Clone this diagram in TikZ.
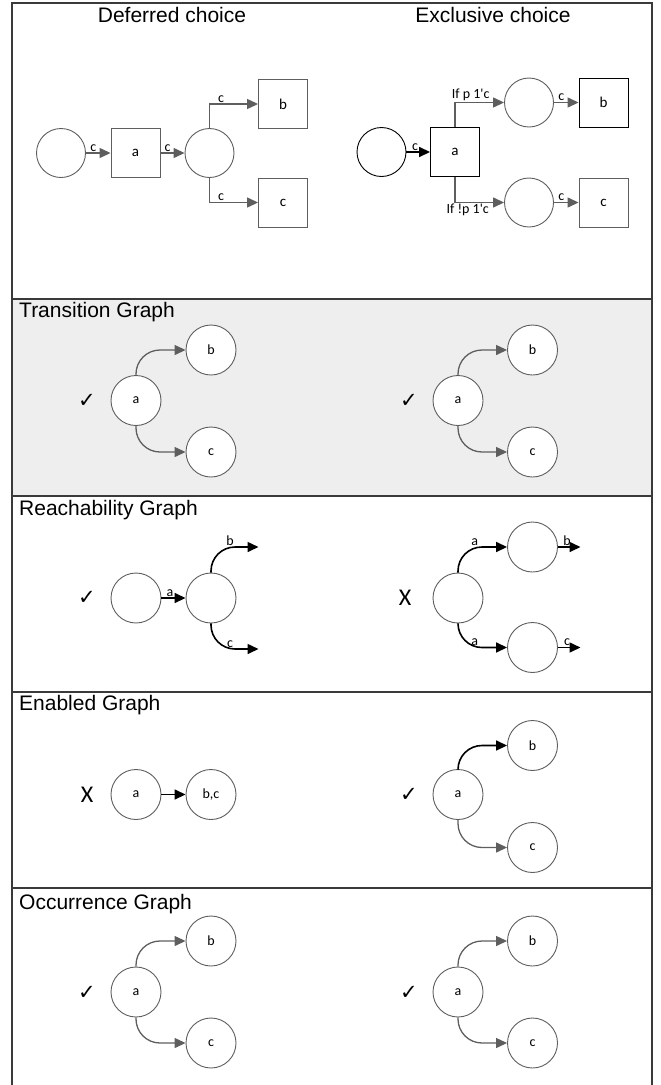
\documentclass[tikz,border=0pt]{standalone}
\usepackage{fontspec}
\setmainfont{Liberation Sans}
\newfontfamily\lblfont{Carlito}
\newfontfamily\symfont{DejaVu Sans}
\usetikzlibrary{arrows.meta}

\definecolor{linegray}{HTML}{5E5E5E}
\definecolor{framegray}{HTML}{3A3A3A}
\definecolor{bandgray}{HTML}{EEEEEE}

\begin{document}
\begin{tikzpicture}[x=1pt, y=-1pt,
  place/.style={circle, draw=linegray, line width=0.9pt, minimum size=49pt, inner sep=0pt},
  trans/.style={draw=linegray, line width=0.9pt, minimum size=49pt, inner sep=0pt, font=\lblfont\fontsize{15}{17}\selectfont},
  gnode/.style={circle, draw=linegray, fill=white, line width=0.9pt, minimum size=50pt, inner sep=0pt, font=\lblfont\fontsize{14}{16}\selectfont},
  flow/.style={draw=linegray, line width=1.3pt, -{Triangle[length=11pt,width=10pt]}},
  darkflow/.style={flow, draw=black, line width=1.6pt},
  roundturn/.style={rounded corners=24pt},
  lbl/.style={font=\lblfont\fontsize{14}{16}\selectfont, inner sep=1pt},
  headtext/.style={font=\fontsize{21}{25}\selectfont, inner sep=0pt},
  sectext/.style={anchor=west, inner sep=0pt, font=\fontsize{21}{25}\selectfont},
  okmark/.style={font=\symfont\fontsize{21}{24}\selectfont},
  nomark/.style={font=\lblfont\fontsize{24}{26}\selectfont},
  framestyle/.style={draw=framegray, line width=1.3pt}
]
\useasboundingbox (0,0) rectangle (661,1085);

% shaded band and frame
\fill[bandgray] (12,299) rectangle (652,496);
\draw[framestyle] (12,1085) -- (12,3) -- (652,3) -- (652,1085);
\draw[framestyle] (12,299) -- (652,299);
\draw[framestyle] (12,496) -- (652,496);
\draw[framestyle] (12,692) -- (652,692);
\draw[framestyle] (12,888) -- (652,888);

% column titles
\node[headtext] (tdef) at (172,15) {Deferred choice};
\node[headtext] (texc) at (493,15) {Exclusive choice};

% deferred choice net
\node[place] (dp1) at (61,153) {};
\node[trans] (da) at (135.5,153) {a};
\node[place] (dp2) at (209.5,153) {};
\node[trans] (db) at (283,104) {b};
\node[trans] (dc) at (283,202.5) {c};
\draw[flow] (dp1) -- node[lbl, above, pos=0.3] {c} (da);
\draw[flow] (da) -- node[lbl, above, pos=0.3] {c} (dp2);
\draw[flow] (dp2.north) |- node[lbl, above, pos=0.62] {c} (db);
\draw[flow] (dp2.south) |- node[lbl, above, pos=0.62] {c} (dc);

% exclusive choice net
\node[place, draw=black] (ep1) at (381.5,152) {};
\node[trans, draw=black] (ea) at (455,152) {a};
\node[place] (ep2) at (529,102.5) {};
\node[place] (ep3) at (529,202.5) {};
\node[trans, draw=black] (eb) at (603.5,102.5) {b};
\node[trans] (ec) at (603.5,202.5) {c};
\draw[darkflow] (ep1) -- node[lbl, above, pos=0.37] {c} (ea);
\draw[flow] (ea.north) |- node[lbl, above, pos=0.66] {If p 1'c} (ep2);
\draw[flow] (ea.south) |- node[lbl, below, pos=0.63] {If !p 1'c} (ep3);
\draw[flow] (ep2) -- node[lbl, above, pos=0.3] {c} (eb);
\draw[flow] (ep3) -- node[lbl, above, pos=0.3] {c} (ec);

% transition graph
\node[sectext] (ttg) at (19,312) {Transition Graph};
\node[okmark] (tok1) at (87,401) {✓};
\node[gnode] (ta1) at (136,400.5) {a};
\node[gnode] (tb1) at (211,350) {b};
\node[gnode] (tc1) at (211,452) {c};
\draw[flow, roundturn] (ta1.north) |- (tb1);
\draw[flow, roundturn] (ta1.south) |- (tc1);
\node[okmark] (tok2) at (409,401) {✓};
\node[gnode] (ta2) at (458,400.5) {a};
\node[gnode] (tb2) at (532.5,350) {b};
\node[gnode] (tc2) at (532.5,452) {c};
\draw[flow, roundturn] (ta2.north) |- (tb2);
\draw[flow, roundturn] (ta2.south) |- (tc2);

% reachability graph
\node[sectext] (trg) at (19,510.5) {Reachability Graph};
\node[okmark] (rok) at (87,598) {✓};
\node[gnode] (rp1) at (136,598) {};
\node[gnode] (rp2) at (211,598) {};
\coordinate (rbout) at (258.5,547);
\coordinate (rcout) at (258.5,649);
\draw[darkflow] (rp1) -- node[lbl, above, pos=0.35] {a} (rp2);
\draw[darkflow, roundturn] (rp2.north) |- node[lbl, above, pos=0.7] {b} (rbout);
\draw[darkflow, roundturn] (rp2.south) |- node[lbl, above, pos=0.7] {c} (rcout);
\node[nomark] (rno) at (405,598) {X};
\node[gnode] (rq1) at (458,598) {};
\node[gnode] (rq2) at (532.5,547) {};
\node[gnode] (rq3) at (532.5,647.5) {};
\coordinate (rqbout) at (580.5,547);
\coordinate (rqcout) at (580.5,647.5);
\draw[darkflow, roundturn] (rq1.north) |- node[lbl, above, pos=0.67] {a} (rq2);
\draw[darkflow, roundturn] (rq1.south) |- node[lbl, above, pos=0.67] {a} (rq3);
\draw[darkflow] (rq2) -- node[lbl, above, pos=0.4] {b} (rqbout);
\draw[darkflow] (rq3) -- node[lbl, above, pos=0.4] {c} (rqcout);

% enabled graph
\node[sectext] (teg) at (19,705.5) {Enabled Graph};
\node[nomark] (eno) at (87,794.5) {X};
\node[gnode] (na1) at (136,794.5) {a};
\node[gnode] (nbc) at (211,794.5) {b,c};
\draw[darkflow] (na1) -- (nbc);
\node[okmark] (eok) at (409,794.5) {✓};
\node[gnode] (na2) at (458,794.5) {a};
\node[gnode] (nb2) at (532.5,745.5) {b};
\node[gnode] (nc2) at (532.5,847.5) {c};
\draw[darkflow, roundturn] (na2.north) |- (nb2);
\draw[flow, roundturn] (na2.south) |- (nc2);

% occurrence graph
\node[sectext] (tog) at (19,904) {Occurrence Graph};
\node[okmark] (ook1) at (87,993) {✓};
\node[gnode] (oa1) at (136,992) {a};
\node[gnode] (ob1) at (211,941) {b};
\node[gnode] (oc1) at (211,1043) {c};
\draw[flow, roundturn] (oa1.north) |- (ob1);
\draw[flow, roundturn] (oa1.south) |- (oc1);
\node[okmark] (ook2) at (409,993) {✓};
\node[gnode] (oa2) at (458,992) {a};
\node[gnode] (ob2) at (532.5,941) {b};
\node[gnode] (oc2) at (532.5,1043) {c};
\draw[flow, roundturn] (oa2.north) |- (ob2);
\draw[flow, roundturn] (oa2.south) |- (oc2);
\end{tikzpicture}
\end{document}
